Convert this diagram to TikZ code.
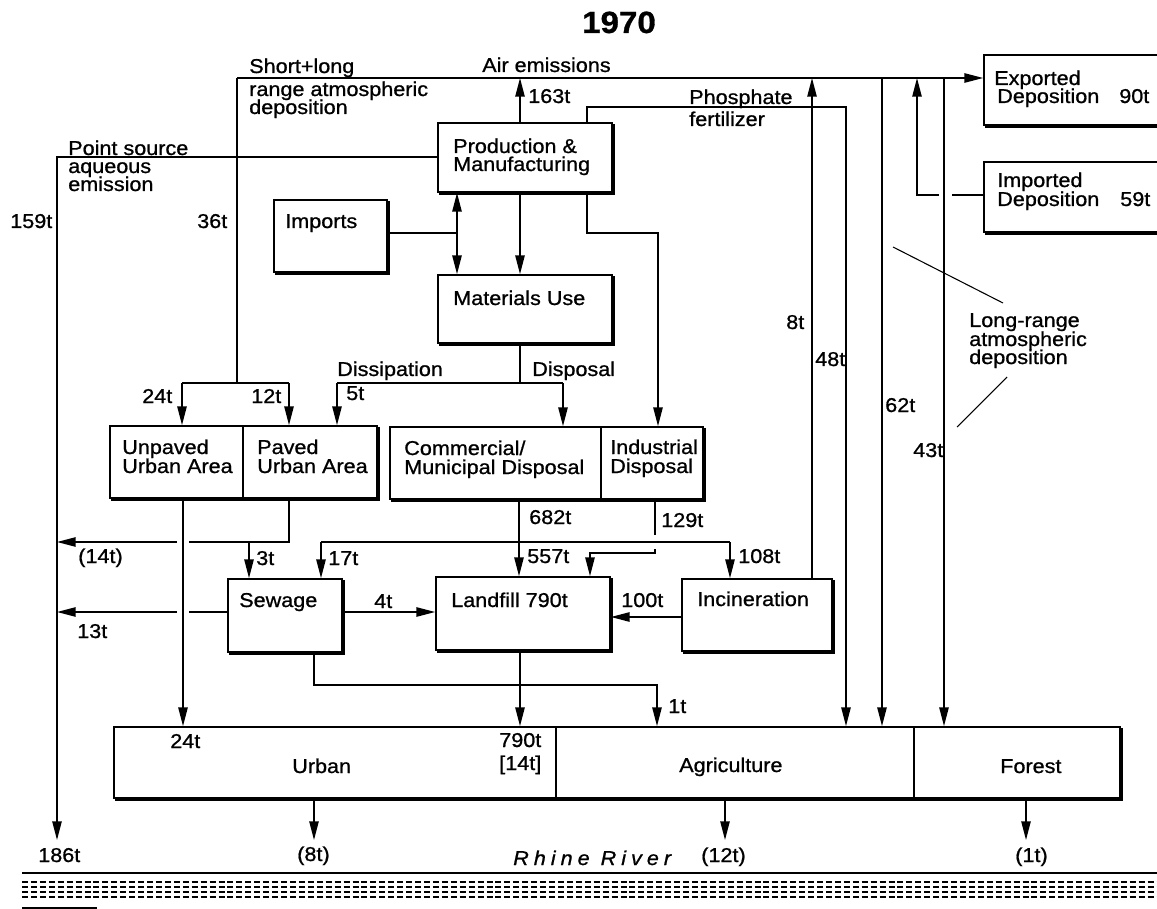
\documentclass[tikz,border=0pt]{standalone}
\usepackage{fontspec}
\setmainfont{Liberation Sans}[FakeStretch=1.08,FakeBold=0.9]
\usetikzlibrary{arrows.meta,fit}
\newcommand\lblfont{\fontsize{15pt}{18pt}\selectfont}
\newcommand\ttlfont{\fontsize{23pt}{26pt}\selectfont\bfseries}
\begin{document}
\begin{tikzpicture}[x=0.75pt,y=-0.75pt,
  ln/.style={line width=1.1pt},
  thin/.style={line width=0.8pt},
  arr/.style={ln,-{Triangle[length=14pt,width=7pt]}},
  darr/.style={ln,{Triangle[length=14pt,width=7pt]}-{Triangle[length=14pt,width=7pt]}},
  box/.style={draw,line width=1.3pt,fill=white,inner sep=0pt,
    preaction={fill=black,draw=black,line width=1.3pt,transform canvas={xshift=1.6pt,yshift=-1.6pt}}},
  lbl/.style={inner sep=0pt,anchor=base west,font=\lblfont}]
\useasboundingbox (0,0) rectangle (1157,909);
\fill[white] (0,0) rectangle (1157,909);

% ---------- boxes ----------
\node[box,fit={(438,123) (612,192)}] (pm) {};
\node[box,fit={(274,200) (387,272)}] (imp) {};
\node[box,fit={(438,275) (612,343)}] (mu) {};
\node[box,fit={(110,426) (377,498)}] (urbarea) {};
\node[box,fit={(390,427) (703,499)}] (disp) {};
\node[box,fit={(228,579) (342,652)}] (sew) {};
\node[box,fit={(436,577) (610,650)}] (lf) {};
\node[box,fit={(682,579) (832,651)}] (inc) {};
\node[box,fit={(114,727) (1120,798)}] (land) {};
\node[box,fit={(984,55) (1175,125)}] (exp) {};
\node[box,fit={(984,162) (1175,232)}] (impd) {};

% dividers
\coordinate (dv1) at (243,426);
\coordinate (dv2) at (601,427);
\coordinate (dv3) at (556,727);
\coordinate (dv4) at (914,727);
\draw[thin] (dv1 |- urbarea.north) -- (dv1 |- urbarea.south);
\draw[thin] (dv2 |- disp.north) -- (dv2 |- disp.south);
\draw[thin] (dv3 |- land.north) -- (dv3 |- land.south);
\draw[thin] (dv4 |- land.north) -- (dv4 |- land.south);

% ---------- coordinates ----------
\coordinate (a36) at (237,78);
\coordinate (split36) at (237,383);
\coordinate (s24) at (182,383);
\coordinate (s12) at (289,383);
\coordinate (x520) at (520,78);
\coordinate (ph1) at (587,107);
\coordinate (ph2) at (846,107);
\coordinate (ps1) at (57,157);
\coordinate (ps2) at (57,840);
\coordinate (dbl) at (457,233);
\coordinate (pi1) at (587,233);
\coordinate (pi2) at (658,233);
\coordinate (mu1) at (520,383);
\coordinate (dis1) at (337,383);
\coordinate (dis2) at (563,383);
\coordinate (x183) at (183,542);
\coordinate (pv1) at (289,542);
\coordinate (g1a) at (189,542);
\coordinate (g1b) at (177,542);
\coordinate (pv2) at (57,542);
\coordinate (t3) at (249,542);
\coordinate (h17) at (321,542);
\coordinate (h108) at (730,542);
\coordinate (x519) at (519,542);
\coordinate (i1) at (655,535);
\coordinate (i2) at (655,549);
\coordinate (i3) at (655,553);
\coordinate (i4) at (590,553);
\coordinate (y612) at (342,612);
\coordinate (g2a) at (189,612);
\coordinate (g2b) at (177,612);
\coordinate (l13) at (57,612);
\coordinate (y617) at (682,617);
\coordinate (x812) at (812,78);
\coordinate (x882) at (882,78);
\coordinate (x944) at (944,78);
\coordinate (im1) at (917,195);
\coordinate (im2) at (917,78);
\coordinate (g3a) at (952,195);
\coordinate (g3b) at (939,195);
\coordinate (sb1) at (314,685);
\coordinate (sb2) at (657,685);
\coordinate (r1) at (314,840);
\coordinate (r2) at (725,840);
\coordinate (r3) at (1026,840);

% ---------- connectors ----------
\draw[arr] (a36) -- (exp.west |- a36);
\draw[ln] (a36) -- (split36);
\draw[ln] (s24) -- (s12);
\draw[arr] (s24) -- (s24 |- urbarea.north);
\draw[arr] (s12) -- (s12 |- urbarea.north);
\draw[arr] (x520 |- pm.north) -- (x520);
\draw[arr] (ph1 |- pm.north) -- (ph1) -- (ph2) -- (ph2 |- land.north);
\draw[arr] (pm.west |- ps1) -- (ps1) -- (ps2);
\draw[ln] (imp.east |- dbl) -- (dbl);
\draw[darr] (dbl |- pm.south) -- (dbl |- mu.north);
\draw[arr] (x520 |- pm.south) -- (x520 |- mu.north);
\draw[arr] (pi1 |- pm.south) -- (pi1) -- (pi2) -- (pi2 |- disp.north);
\draw[ln] (mu1 |- mu.south) -- (mu1);
\draw[ln] (dis1) -- (dis2);
\draw[arr] (dis1) -- (dis1 |- urbarea.north);
\draw[arr] (dis2) -- (dis2 |- disp.north);
\draw[arr] (x183 |- urbarea.south) -- (x183 |- land.north);
\draw[ln] (pv1 |- urbarea.south) -- (pv1) -- (g1a);
\draw[arr] (g1b) -- (pv2);
\draw[arr] (t3) -- (t3 |- sew.north);
\draw[ln] (h17) -- (h108);
\draw[arr] (h17) -- (h17 |- sew.north);
\draw[arr] (h108) -- (h108 |- inc.north);
\draw[arr] (x519 |- disp.south) -- (x519 |- lf.north);
\draw[ln] (i1 |- disp.south) -- (i1);
\draw[arr] (i2) -- (i3) -- (i4) -- (i4 |- lf.north);
\draw[arr] (sew.east |- y612) -- (lf.west |- y612);
\draw[ln] (sew.west |- y612) -- (g2a);
\draw[arr] (g2b) -- (l13);
\draw[arr] (inc.west |- y617) -- (lf.east |- y617);
\draw[arr] (x812 |- inc.north) -- (x812);
\draw[arr] (x882) -- (x882 |- land.north);
\draw[arr] (x944) -- (x944 |- land.north);
\draw[ln] (impd.west |- im1) -- (g3a);
\draw[arr] (g3b) -- (im1) -- (im2);
\draw[arr] (sb1 |- sew.south) -- (sb1) -- (sb2) -- (sb2 |- land.north);
\draw[arr] (x520 |- lf.south) -- (x520 |- land.north);
\draw[arr] (r1 |- land.south) -- (r1);
\draw[arr] (r2 |- land.south) -- (r2);
\draw[arr] (r3 |- land.south) -- (r3);

% leaders
\coordinate (lr1) at (893,247);
\coordinate (lr2) at (1003,303);
\coordinate (lr3) at (957,427);
\coordinate (lr4) at (1007,377);
\draw[thin] (lr1) -- (lr2);
\draw[thin] (lr3) -- (lr4);

% river
\coordinate (rv1) at (22,873);
\coordinate (rv2) at (1157,873);
\draw[line width=1.6pt] (rv1) -- (rv2);
\foreach \yy in {882,887,892,897}
  \draw[line width=1.2pt,dash pattern=on 4.5pt off 2.2pt] (22,\yy) -- (1157,\yy);
\coordinate (rv3) at (22,908);
\coordinate (rv4) at (97,908);
\draw[thin] (rv3) -- (rv4);

% ---------- labels ----------
\node[inner sep=0pt,anchor=base,font=\ttlfont] (title) at (619,33) {1970};
\node[lbl] (l1) at (249,73) {Short+long};
\node[lbl] (l2) at (482,72) {Air emissions};
\node[lbl] (l3) at (249,96) {range atmospheric};
\node[lbl] (l4) at (249,114) {deposition};
\node[lbl] (l5) at (528,103) {163t};
\node[lbl] (l6) at (689,104) {Phosphate};
\node[lbl] (l7) at (689,126) {fertilizer};
\node[lbl] (l8) at (453,153) {Production \&};
\node[lbl] (l9) at (453,171) {Manufacturing};
\node[lbl] (l10) at (68,155) {Point source};
\node[lbl] (l11) at (68,173) {aqueous};
\node[lbl] (l12) at (68,191) {emission};
\node[lbl] (l13) at (10,228) {159t};
\node[lbl] (l14) at (197,228) {36t};
\node[lbl] (l15) at (285,228) {Imports};
\node[lbl] (l16) at (453,305) {Materials Use};
\node[lbl] (l17) at (994,85) {Exported};
\node[lbl] (l18) at (997,103) {Deposition};
\node[lbl] (l19) at (1119,103) {90t};
\node[lbl] (l20) at (997,187) {Imported};
\node[lbl] (l21) at (997,206) {Deposition};
\node[lbl] (l22) at (1120,206) {59t};
\node[lbl] (l23) at (786,329) {8t};
\node[lbl] (l24) at (815,366) {48t};
\node[lbl] (l25) at (969,327) {Long-range};
\node[lbl] (l26) at (969,346) {atmospheric};
\node[lbl] (l27) at (969,364) {deposition};
\node[lbl] (l28) at (885,412) {62t};
\node[lbl] (l29) at (913,457) {43t};
\node[lbl] (l30) at (337,376) {Dissipation};
\node[lbl] (l31) at (532,376) {Disposal};
\node[lbl] (l32) at (142,403) {24t};
\node[lbl] (l33) at (251,403) {12t};
\node[lbl] (l34) at (346,400) {5t};
\node[lbl] (l35) at (122,454) {Unpaved};
\node[lbl] (l36) at (122,473) {Urban Area};
\node[lbl] (l37) at (257,454) {Paved};
\node[lbl] (l38) at (257,473) {Urban Area};
\node[lbl] (l39) at (404,455) {Commercial/};
\node[lbl] (l40) at (404,474) {Municipal Disposal};
\node[lbl] (l41) at (610,454) {Industrial};
\node[lbl] (l42) at (610,473) {Disposal};
\node[lbl] (l43) at (529,524) {682t};
\node[lbl] (l44) at (661,527) {129t};
\node[lbl] (l45) at (78,563) {(14t)};
\node[lbl] (l46) at (256,565) {3t};
\node[lbl] (l47) at (328,565) {17t};
\node[lbl] (l48) at (527,563) {557t};
\node[lbl] (l49) at (738,563) {108t};
\node[lbl] (l50) at (239,607) {Sewage};
\node[lbl] (l51) at (374,608) {4t};
\node[lbl] (l52) at (451,607) {Landfill 790t};
\node[lbl] (l53) at (621,607) {100t};
\node[lbl] (l54) at (697,606) {Incineration};
\node[lbl] (l55) at (77,638) {13t};
\node[lbl] (l56) at (668,713) {1t};
\node[lbl] (l57) at (170,748) {24t};
\node[lbl] (l58) at (499,747) {790t};
\node[lbl] (l59) at (499,770) {[14t]};
\node[lbl] (l60) at (292,773) {Urban};
\node[lbl] (l61) at (679,772) {Agriculture};
\node[lbl] (l62) at (1000,773) {Forest};
\node[lbl] (l63) at (38,862) {186t};
\node[lbl] (l64) at (297,861) {(8t)};
\node[lbl] (l65) at (513,865) {\itshape\addfontfeature{LetterSpace=25}Rhine River};
\node[lbl] (l66) at (701,862) {(12t)};
\node[lbl] (l67) at (1015,862) {(1t)};
\end{tikzpicture}
\end{document}
